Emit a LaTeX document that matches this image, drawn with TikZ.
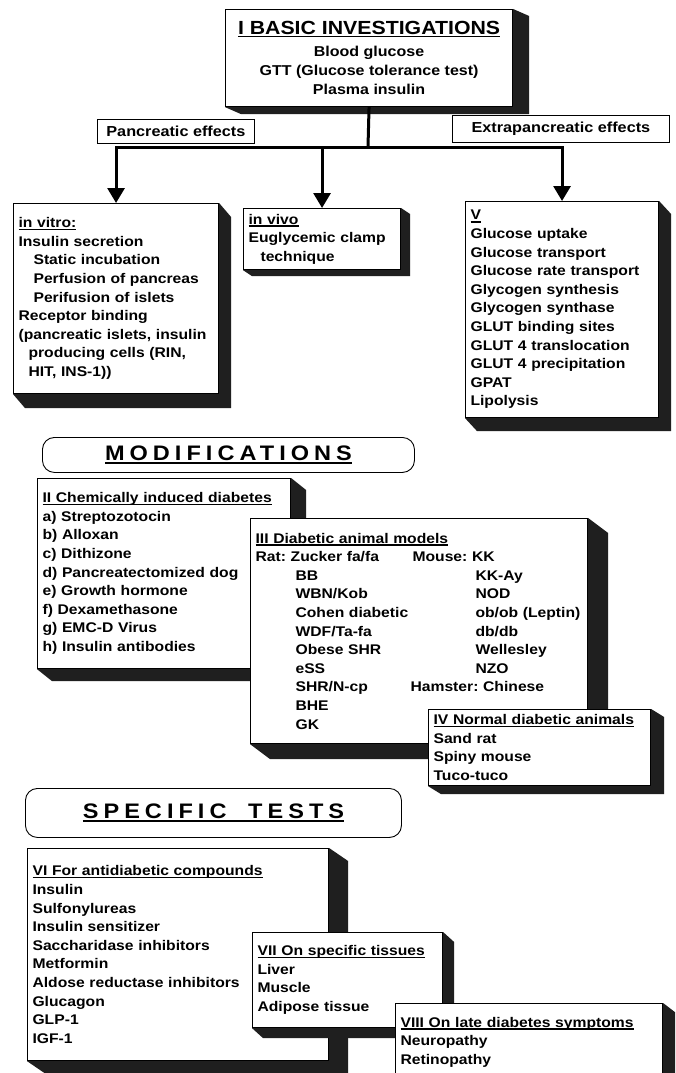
\documentclass[tikz,border=0pt]{standalone}
\usepackage{fontspec}
\setmainfont{Liberation Sans}[FakeStretch=1.12]
\usepackage{tikz}
\usetikzlibrary{arrows.meta}

\frenchspacing
\newcommand{\cardfont}{\fontsize{14}{18.6}\selectfont\bfseries}
\newcommand{\ulined}[1]{\leavevmode\setbox0\hbox{#1}\rlap{\rule[-2.6pt]{\wd0}{1.3pt}}\box0}
\newcommand{\boxshade}[3]{\fill[extrude] (#1.north east) -- ++(#2,#3) -- ([shift={(#2,#3)}]#1.south east) -- ([shift={(#2,#3)}]#1.south west) -- (#1.south west) -- (#1.south east) -- cycle;}
\newcommand{\animalrow}[2]{\hspace*{40pt}\makebox[180pt][l]{#1}#2}

\begin{document}
\begin{tikzpicture}[x=1pt, y=-1pt, >={Triangle[width=17pt, length=15pt]},
	card/.style={draw, fill=white, line width=1.1pt, anchor=north west, align=left, inner xsep=5pt, inner ysep=0pt, font=\cardfont},
	tag/.style={draw, fill=white, line width=0.8pt, anchor=north west, inner sep=0pt, font=\fontsize{14.5}{17}\selectfont\bfseries},
	banner/.style={draw, line width=0.9pt, rounded corners=12pt, anchor=north west, inner sep=0pt,
		font=\fontsize{21}{25}\selectfont\bfseries\addfontfeatures{LetterSpace=24}},
	link/.style={line width=3pt},
	extrude/.style={fill=black!88}]
	\clip (0,0) rectangle (675,1073);
	\fill[white] (0,0) rectangle (675,1073);

	% basic investigations
	\node[card, align=center, minimum width=287pt, minimum height=97pt, font=\fontsize{14.3}{19}\selectfont\bfseries] (basic) at (225,9)
		{{\fontsize{19}{22}\selectfont\ulined{I BASIC INVESTIGATIONS}}\\[3pt]
		Blood glucose\\ GTT (Glucose tolerance test)\\ Plasma insulin};
	\boxshade{basic}{16}{7}

	\coordinate (hub) at (368,147);
	\node[tag, minimum width=157pt, minimum height=24pt] (panc) at (97,119) {Pancreatic effects};
	\node[tag, minimum width=217pt, minimum height=27pt] (extra) at (452,115) {Extrapancreatic effects};

	\node[card, text width=195pt, minimum height=190pt] (vitro) at (13,203)
		{\ulined{in vitro:}\\ Insulin secretion\\ \hspace*{15pt}Static incubation\\ \hspace*{15pt}Perfusion of pancreas\\
		\hspace*{15pt}Perifusion of islets\\ Receptor binding\\ (pancreatic islets, insulin\\
		\hspace*{10pt}producing cells (RIN,\\ \hspace*{10pt}HIT, INS-1))};
	\boxshade{vitro}{12}{14}

	\node[card, text width=147pt, minimum height=61pt] (vivo) at (243,208)
		{\ulined{in vivo}\\ Euglycemic clamp\\ \hspace*{12pt}technique};
	\boxshade{vivo}{9}{6}

	\node[card, text width=183pt, minimum height=216pt] (five) at (465,201)
		{\ulined{V}\\ Glucose uptake\\ Glucose transport\\ Glucose rate transport\\ Glycogen synthesis\\
		Glycogen synthase\\ GLUT binding sites\\ GLUT 4 translocation\\ GLUT 4 precipitation\\ GPAT\\ Lipolysis};
	\boxshade{five}{12}{13}

	\draw[link] (basic.south) -- (hub);
	\draw[link, ->] (hub) -| (vitro.north);
	\draw[link, ->] (hub) -| (five.north);
	\draw[link, ->] (vivo.north |- hub) -- (vivo.north);

	% modifications
	\node[banner, minimum width=372pt, minimum height=35pt] (modif) at (42,437) {\ulined{MODIFICATIONS}};

	\node[card, text width=243pt, minimum height=190pt] (chem) at (37,478)
		{\ulined{II Chemically induced diabetes}\\ a) Streptozotocin\\ b) Alloxan\\ c) Dithizone\\
		d) Pancreatectomized dog\\ e) Growth hormone\\ f) Dexamethasone\\ g) EMC-D Virus\\ h) Insulin antibodies};
	\boxshade{chem}{15}{12}

	\node[card, text width=327pt, minimum height=225pt] (models) at (250,518)
		{\ulined{III Diabetic animal models}\\
		\makebox[157pt][l]{Rat: Zucker fa/fa}Mouse: KK\\
		\animalrow{BB}{KK-Ay}\\
		\animalrow{WBN/Kob}{NOD}\\
		\animalrow{Cohen diabetic}{ob/ob (Leptin)}\\
		\animalrow{WDF/Ta-fa}{db/db}\\
		\animalrow{Obese SHR}{Wellesley}\\
		\animalrow{eSS}{NZO}\\
		\hspace*{40pt}\makebox[115pt][l]{SHR/N-cp}Hamster: Chinese\\
		\hspace*{40pt}BHE\\
		\hspace*{40pt}GK};
	\boxshade{models}{20}{15}

	\node[card, text width=212pt, minimum height=76pt] (normal) at (428,709)
		{\ulined{IV Normal diabetic animals}\\ Sand rat\\ Spiny mouse\\ Tuco-tuco};
	\boxshade{normal}{13}{8}

	% specific tests
	\node[banner, minimum width=376pt, minimum height=49pt] (tests) at (25,788) {\ulined{SPECIFIC\hspace{10pt} TESTS}};

	\node[card, text width=291pt, minimum height=212pt] (compounds) at (27,848)
		{\ulined{VI For antidiabetic compounds}\\ Insulin\\ Sulfonylureas\\ Insulin sensitizer\\ Saccharidase inhibitors\\
		Metformin\\ Aldose reductase inhibitors\\ Glucagon\\ GLP-1\\ IGF-1};
	\boxshade{compounds}{19}{13}

	\node[card, text width=180pt, minimum height=95pt] (tissues) at (252,932)
		{\ulined{VII On specific tissues}\\ Liver\\ Muscle\\ Adipose tissue};
	\boxshade{tissues}{11}{10}

	\node[card, text width=257pt, minimum height=77pt] (late) at (395,1003)
		{\ulined{VIII On late diabetes symptoms}\\ Neuropathy\\ Retinopathy};
	\boxshade{late}{13}{10}
\end{tikzpicture}
\end{document}
